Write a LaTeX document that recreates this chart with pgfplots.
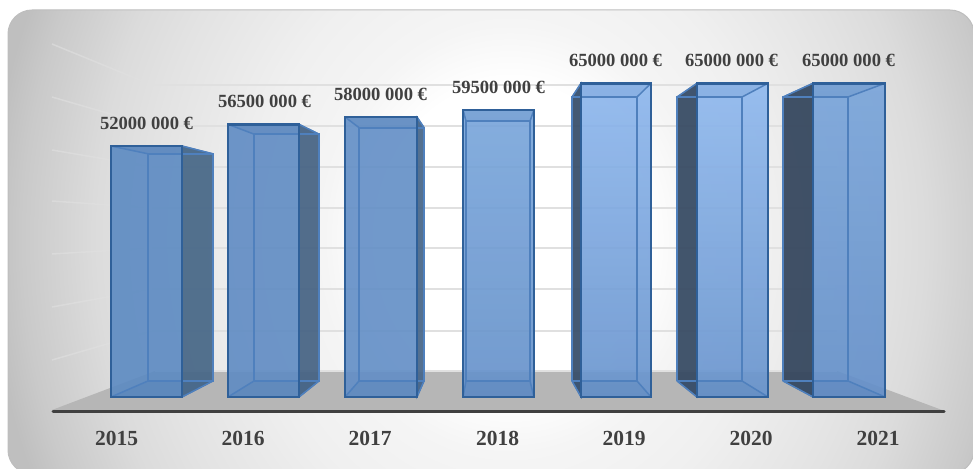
\documentclass[border=0pt]{standalone}
\usepackage{fontspec}
\setmainfont{Liberation Serif}
\usepackage{pgfplots}
\pgfplotsset{compat=1.18}

\definecolor{labeltext}{HTML}{404040}
\definecolor{gridgray}{HTML}{E0E0E0}
\definecolor{floorgray}{HTML}{B6B6B6}
\definecolor{axisdark}{HTML}{404040}
\definecolor{frameedge}{HTML}{BEBEBE}
\definecolor{baredge}{HTML}{2F6099}
\definecolor{backedge}{HTML}{4F80BD}
% front tints, top and bottom
\definecolor{fa}{HTML}{5C8AC2}
\definecolor{fb}{HTML}{5F8BC3}
\definecolor{fc}{HTML}{628EC6}
\definecolor{fdt}{HTML}{78A5DB}
\definecolor{fdb}{HTML}{6490C9}
\definecolor{fet}{HTML}{8CB6ED}
\definecolor{feb}{HTML}{6793CD}
\definecolor{fft}{HTML}{8EB8EE}
\definecolor{fgt}{HTML}{78A4DA}
\definecolor{fgb}{HTML}{638FC9}
% side walls
\definecolor{sa}{HTML}{476787}
\definecolor{sb}{HTML}{466384}
\definecolor{sc}{HTML}{486688}
\definecolor{se}{HTML}{364D69}
\definecolor{sf}{HTML}{354962}
\definecolor{sg}{HTML}{33455C}

% Soft light panel behind the whole chart; a path fills the inner 25bp
\pgfdeclareradialshading{panel}{\pgfpoint{0bp}{0bp}}{%
  color(0bp)=(white);
  color(6.5bp)=(white);
  color(9bp)=(black!4);
  color(12.5bp)=(black!6);
  color(17.5bp)=(black!11);
  color(20bp)=(black!14);
  color(23.5bp)=(black!21);
  color(25bp)=(black!25);
  color(50bp)=(black!25)}

\pgfplotsset{
  canvas/.style={
    at={(0pt,0pt)}, anchor=south west,
    scale only axis, width=973pt, height=468pt,
    hide axis, xmin=0, xmax=973,
    every axis plot/.append style={mark=none, forget plot},
  },
  wallgrid/.style={gridgray, line width=1.5pt, draw opacity=0.6},
  reargrid/.style={gridgray, line width=2pt},
}

% the visible wall of a bar: front x, rear x, value, rear height, colour
\newcommand{\sidewall}[5]{
  \addplot[draw=baredge, line width=1pt, fill=#5, fill opacity=0.93]
    coordinates {(#1,0) (#1,#3) (#2,#4) (#2,3326000)} -- cycle;
}
% left, right of the front face; left, right of the rear face;
% value, rear height; front colours (top, bottom)
\newcommand{\glassbar}[8]{
  % the front, tinted from top to bottom
  \addplot[draw=none, shade, top color=#7, bottom color=#8, fill opacity=0.9]
    coordinates {(#1,0) (#1,#5) (#2,#5) (#2,0)} -- cycle;
  % lid and base, a little deeper in tone
  \addplot[draw=none, fill=baredge, fill opacity=0.1]
    coordinates {(#1,#5) (#2,#5) (#4,#6) (#3,#6)} -- cycle;
  \addplot[draw=none, fill=baredge, fill opacity=0.1]
    coordinates {(#1,0) (#2,0) (#4,3326000) (#3,3326000)} -- cycle;
  % the rear frame, seen through the front
  \addplot[draw=backedge, line width=2pt]
    coordinates {(#3,3326000) (#3,#6) (#4,#6) (#4,3326000) (#3,3326000)};
  \addplot[draw=backedge, line width=1.5pt] coordinates {(#1,0) (#3,3326000)};
  \addplot[draw=backedge, line width=1.5pt] coordinates {(#2,0) (#4,3326000)};
  \addplot[draw=backedge, line width=1.5pt] coordinates {(#1,#5) (#3,#6)};
  \addplot[draw=backedge, line width=1.5pt] coordinates {(#2,#5) (#4,#6)};
  % the front outline
  \addplot[draw=baredge, line width=2.5pt]
    coordinates {(#1,0) (#1,#5) (#2,#5) (#2,0)} -- cycle;
}

\newcommand{\amount}[3]{%
  \node[text=labeltext, font=\bfseries\fontsize{18.6}{20}\selectfont, yshift=22.5pt]
    at (axis cs:#1,#2) {#3};}
\newcommand{\yearlabel}[2]{%
  \node[text=labeltext, font=\bfseries\fontsize{21.5}{24}\selectfont]
    at (axis cs:#1,438) {#2};}

\begin{document}
\begin{tikzpicture}
% Panel, walls, floor and year labels, in a frame measured from the top left
\begin{axis}[canvas, ymin=0, ymax=468, y dir=reverse]
  \path (axis cs:0,0) rectangle (axis cs:973,468);
  \begin{scope}
    \clip[rounded corners=24pt] (axis cs:8,10) rectangle (axis cs:974,474);
    \shade[overlay, shading=panel] (axis cs:-10,-361) rectangle (axis cs:1030,839);
  \end{scope}
  \draw[overlay, frameedge, line width=1pt, rounded corners=24pt]
    (axis cs:8,10) rectangle (axis cs:974,474);

  % side wall grid
  \addplot[wallgrid] coordinates {(52,44) (152,85)};
  \addplot[wallgrid] coordinates {(52,97) (152,126)};
  \addplot[wallgrid] coordinates {(52,150) (152,167)};
  \addplot[wallgrid] coordinates {(52,201) (152,208)};
  \addplot[wallgrid] coordinates {(52,254) (152,248)};
  \addplot[wallgrid] coordinates {(52,307) (152,289)};
  \addplot[wallgrid] coordinates {(52,360) (152,331)};
  % rear wall grid
  \addplot[reargrid] coordinates {(152,85) (837,85)};
  \addplot[reargrid] coordinates {(152,126) (837,126)};
  \addplot[reargrid] coordinates {(152,167) (837,167)};
  \addplot[reargrid] coordinates {(152,208) (837,208)};
  \addplot[reargrid] coordinates {(152,248) (837,248)};
  \addplot[reargrid] coordinates {(152,289) (837,289)};
  \addplot[reargrid] coordinates {(152,331) (837,331)};
  % floor and the axis line in front of it
  \addplot[draw=none, fill=floorgray] coordinates {(52,410) (155,371) (837,371) (942,410)} -- cycle;
  \addplot[gridgray, line width=1.5pt] coordinates {(155,371) (837,371)};
  \addplot[axisdark, line width=3pt, line cap=round] coordinates {(53,411) (944,411)};

  \yearlabel{116.5}{2015}
  \yearlabel{243}{2016}
  \yearlabel{370}{2017}
  \yearlabel{497.5}{2018}
  \yearlabel{624}{2019}
  \yearlabel{751}{2020}
  \yearlabel{878}{2021}
\end{axis}

% The bars, on a euro scale
\begin{axis}[canvas, ymin=-14710000, ymax=82250000]
  \sidewall{182}{213}{52000000}{50386000}{sa}
  \glassbar{111}{182}{148}{213}{52000000}{50386000}{fa}{fa}
  \sidewall{299}{319}{56500000}{54459000}{sb}
  \glassbar{228}{299}{254}{319}{56500000}{54459000}{fb}{fb}
  \sidewall{417}{424}{58000000}{55816000}{sc}
  \glassbar{345}{417}{359}{424}{58000000}{55816000}{fc}{fc}
  \glassbar{463}{534}{466}{530}{59500000}{57174000}{fdt}{fdb}
  \sidewall{581}{572}{65000000}{62151000}{se}
  \glassbar{581}{651}{572}{637}{65000000}{62151000}{fet}{feb}
  \sidewall{697}{677}{65000000}{62151000}{sf}
  \glassbar{697}{768}{677}{742}{65000000}{62151000}{fft}{feb}
  \sidewall{813}{783}{65000000}{62151000}{sg}
  \glassbar{813}{885}{783}{848}{65000000}{62151000}{fgt}{fgb}

  \amount{146.5}{52000000}{52000 000 €}
  \amount{264.5}{56500000}{56500 000 €}
  \amount{380.5}{58000000}{58000 000 €}
  \amount{498.5}{59500000}{59500 000 €}
  \amount{615.5}{65000000}{65000 000 €}
  \amount{731.5}{65000000}{65000 000 €}
  \amount{848.5}{65000000}{65000 000 €}
\end{axis}
\end{tikzpicture}
\end{document}
